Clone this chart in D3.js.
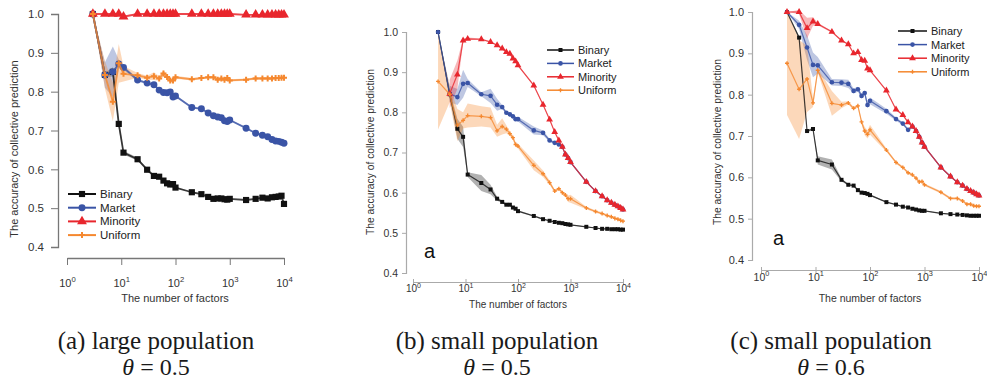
<!DOCTYPE html>
<html><head><meta charset="utf-8">
<script src="https://cdn.jsdelivr.net/npm/d3@7"></script>
<style>body{margin:0;background:#fff}svg{display:block}</style>
</head><body><svg id="c" width="987" height="382"></svg>
<script>
// ---------------- DATA ----------------
const factors = [3,5,7,9,11,20,30,40,50,60,70,80,90,100,200,300,400,500,600,700,800,900,1000,2000,3000,4000,5000,6000,7000,8000,9000,10000];
const seriesNames = ["Binary","Market","Minority","Uniform"];
const xTickExps = [0,1,2,3,4];
const yTicks = [0.4,0.5,0.6,0.7,0.8,0.9,1.0];
const captionTitles = ["(a) large population","(b) small population","(c) small population"];
const captionThetas = ["0.5","0.5","0.6"];

// Panel (a) large population, theta 0.5
const aBinary   = [1.0,0.843,0.851,0.717,0.643,0.626,0.599,0.583,0.581,0.571,0.564,0.561,0.562,0.553,0.541,0.536,0.529,0.524,0.525,0.525,0.523,0.522,0.524,0.521,0.524,0.527,0.525,0.528,0.529,0.530,0.532,0.511];
const aBinaryErr= [0,0.005,0.012,0.012,0.005,0.004,0.003,0.002,0.002,0.002,0.002,0.002,0.002,0.002,0,0,0,0,0,0,0,0,0,0,0,0,0,0,0,0,0,0];
const aMarket   = [1.0,0.843,0.851,0.871,0.862,0.830,0.822,0.818,0.804,0.798,0.797,0.799,0.786,0.789,0.759,0.756,0.745,0.738,0.735,0.733,0.725,0.723,0.727,0.706,0.693,0.688,0.684,0.677,0.673,0.672,0.670,0.667];
const aMarketErr= [0,0.033,0.065,0.012,0.006,0.004,0.003,0.003,0.004,0.003,0.003,0.008,0.004,0.003,0.002,0.002,0.002,0.002,0.002,0.002,0.002,0.002,0.002,0.002,0.002,0.002,0.002,0.002,0.002,0.002,0.002,0.002];
const aMinority = [1.0,1.0,1.0,1.0,0.993,1.0,1.0,1.0,1.0,1.0,1.0,1.0,1.0,1.0,1.0,1.0,1.0,1.0,1.0,1.0,1.0,1.0,1.0,0.998,0.998,0.998,0.998,0.998,0.998,0.998,0.998,0.998];
const aMinorityErr=[0,0.002,0.002,0.002,0.003,0.002,0.002,0.002,0.002,0.002,0.002,0.002,0.002,0.002,0.002,0.002,0.002,0.002,0.002,0.002,0.002,0.002,0.002,0.002,0.002,0.002,0.002,0.002,0.002,0.002,0.002,0.002];
const aUniform  = [1.0,0.843,0.774,0.873,0.846,0.842,0.836,0.840,0.834,0.847,0.838,0.829,0.829,0.837,0.832,0.835,0.837,0.837,0.831,0.834,0.831,0.835,0.829,0.831,0.834,0.834,0.834,0.834,0.835,0.835,0.836,0.836];
const aUniformErr=[0,0.035,0.05,0.05,0.02,0.006,0.005,0.01,0.006,0.008,0.005,0.006,0.005,0.004,0.003,0.003,0.003,0.003,0.003,0.003,0.003,0.003,0.003,0.003,0.003,0.003,0.003,0.003,0.003,0.003,0.003,0.003];

// Panel (b) small population, theta 0.5
const bBinary   = [1.0,0.845,0.759,0.739,0.645,0.624,0.608,0.585,0.577,0.570,0.570,0.563,0.560,0.554,0.542,0.534,0.530,0.527,0.525,0.524,0.522,0.521,0.520,0.515,0.512,0.510,0.510,0.509,0.509,0.509,0.508,0.508];
const bBinaryErr= [0,0.01,0.025,0.025,0.006,0.02,0.012,0.005,0.003,0.003,0.003,0.002,0.002,0.002,0.002,0.002,0.001,0.001,0.001,0.001,0.001,0.001,0.001,0.001,0.001,0.001,0.001,0.001,0.001,0.001,0.001,0.001];
const bMarket   = [1.0,0.846,0.838,0.871,0.873,0.845,0.841,0.819,0.813,0.799,0.795,0.790,0.783,0.783,0.755,0.749,0.730,0.724,0.720,0.714,0.695,0.686,0.676,0.627,0.604,0.591,0.581,0.575,0.570,0.566,0.562,0.558];
const bMarketErr= [0,0.02,0.02,0.035,0.01,0.005,0.018,0.015,0.005,0.004,0.004,0.004,0.004,0.006,0.01,0.006,0.004,0.003,0.003,0.002,0.002,0.002,0.002,0.002,0.002,0.002,0.002,0.002,0.002,0.002,0.002,0.002];
const bMinority = [null,0.846,0.894,0.979,0.983,0.982,0.975,0.967,0.959,0.950,0.946,0.934,0.927,0.917,0.867,0.819,0.782,0.751,0.730,0.714,0.695,0.686,0.676,0.627,0.604,0.591,0.581,0.575,0.570,0.566,0.562,0.558];
const bMinorityErr=[0,0.035,0.035,0.005,0.003,0.002,0.002,0.002,0.002,0.002,0.002,0.002,0.002,0.002,0.002,0.002,0.002,0.002,0.002,0.002,0.002,0.002,0.002,0.002,0.002,0.002,0.002,0.002,0.002,0.002,0.002,0.002];
const bUniform  = [0.877,0.845,0.768,0.780,0.792,0.790,0.787,0.754,0.765,0.758,0.747,0.737,0.720,0.716,0.668,0.647,0.625,0.604,0.610,0.600,0.594,0.585,0.585,0.562,0.553,0.548,0.543,0.540,0.536,0.534,0.531,0.529];
const bUniformErr=[0.12,0.02,0.04,0.02,0.03,0.025,0.025,0.015,0.02,0.01,0.006,0.006,0.006,0.006,0.012,0.008,0.005,0.004,0.004,0.004,0.005,0.008,0.01,0.003,0.003,0.003,0.003,0.003,0.003,0.003,0.003,0.003];

// Panel (c) small population, theta 0.6
const cBinary   = [1.0,0.938,0.712,0.717,0.641,0.631,0.594,0.582,0.580,0.569,0.563,0.562,0.560,0.557,0.540,0.534,0.529,0.527,0.524,0.522,0.520,0.519,0.519,0.513,0.511,0.510,0.509,0.508,0.507,0.507,0.507,0.507];
const cBinaryErr= [0,0.004,0.003,0.003,0.01,0.012,0.004,0.002,0.002,0.002,0.002,0.002,0.002,0.002,0.001,0.001,0.001,0.001,0.001,0.001,0.001,0.001,0.001,0.001,0.001,0.001,0.001,0.001,0.001,0.001,0.001,0.001];
const cMarket   = [1.0,0.969,0.914,0.872,0.871,0.830,0.829,0.826,0.809,0.813,0.797,0.804,0.775,0.785,0.760,0.741,0.730,0.715,0.723,0.712,0.698,0.684,0.674,0.624,0.602,0.588,0.580,0.572,0.567,0.563,0.559,0.556];
const cMarketErr= [0,0.01,0.03,0.03,0.02,0.008,0.008,0.01,0.006,0.006,0.006,0.006,0.008,0.008,0.006,0.004,0.004,0.003,0.002,0.002,0.002,0.002,0.002,0.002,0.002,0.002,0.002,0.002,0.002,0.002,0.002,0.002];
const cMinority = [1.0,1.0,0.961,0.977,0.971,0.952,0.931,0.922,0.900,0.903,0.884,0.882,0.863,0.859,0.810,0.764,0.751,0.733,0.723,0.712,0.698,0.684,0.674,0.624,0.602,0.588,0.580,0.572,0.567,0.563,0.559,0.556];
const cMinorityErr=[0,0.005,0.025,0.01,0.003,0.002,0.002,0.002,0.002,0.002,0.002,0.002,0.002,0.002,0.002,0.002,0.002,0.002,0.002,0.002,0.002,0.002,0.002,0.002,0.002,0.002,0.002,0.002,0.002,0.002,0.002,0.002];
const cUniform  = [0.876,0.813,0.838,0.780,0.859,0.779,0.775,0.780,0.767,0.773,0.734,0.712,0.704,0.715,0.666,0.636,0.624,0.611,0.606,0.598,0.589,0.590,0.582,0.564,0.549,0.549,0.543,0.535,0.535,0.531,0.530,0.530];
const cUniformErr=[0.125,0.12,0.08,0.01,0.005,0.03,0.008,0.004,0.004,0.004,0.005,0.01,0.01,0.012,0.004,0.003,0.003,0.003,0.003,0.003,0.003,0.003,0.003,0.003,0.003,0.003,0.003,0.003,0.003,0.003,0.003,0.003];

// ---------------- STYLE / LAYOUT ----------------
const colors = {Binary:"#111111", Market:"#3a54a6", Minority:"#e8262d", Uniform:"#f5882f"};
const symbols = {Binary:d3.symbolSquare, Market:d3.symbolCircle, Minority:d3.symbolTriangle, Uniform:d3.symbolCross};

const panels = [
  {id:"a", x0:67, x1:284, yTop:14, yBot:247, xAxisY:258, yAxisX:58, big:true,
   tickOut:true, yLabX:42, xLabY:287, xTitle:[175,302], yTitle:[14,149], fs:11, axisColor:"#777",
   legend:{x:68, y:194, dy:13.7, len:28, fs:11.5}, letter:null,
   data:[[aBinary,aBinaryErr],[aMarket,aMarketErr],[aMinority,aMinorityErr],[aUniform,aUniformErr]]},
  {id:"b", x0:413, x1:623, yTop:32, yBot:273, xAxisY:282, yAxisX:406, big:false,
   tickOut:false, yLabX:397, xLabY:292, xTitle:[518,308], yTitle:[370,152], fs:10, axisColor:"#aaa",
   legend:{x:547, y:50, dy:13.4, len:27, fs:11}, letter:[424,258],
   data:[[bBinary,bBinaryErr],[bMarket,bMarketErr],[bMinority,bMinorityErr],[bUniform,bUniformErr]]},
  {id:"c", x0:761, x1:979, yTop:12, yBot:260, xAxisY:270, yAxisX:752, big:false,
   tickOut:false, yLabX:745, xLabY:281, xTitle:[870,302], yTitle:[717,142], fs:10.5, axisColor:"#aaa",
   legend:{x:898, y:31, dy:13.6, len:29, fs:11}, letter:[773,245],
   data:[[cBinary,cBinaryErr],[cMarket,cMarketErr],[cMinority,cMinorityErr],[cUniform,cUniformErr]]}
];

const svg = d3.select("#c");
const FONT = "'Liberation Sans', Arial, Helvetica, sans-serif";
const SERIF = "'Liberation Serif', 'DejaVu Serif', serif";

panels.forEach((p, pi) => {
  const g = svg.append("g");
  const x = d3.scaleLog().domain([1, 10000]).range([p.x0, p.x1]);
  const y = d3.scaleLinear().domain([0.4, 1.0]).range([p.yBot, p.yTop]);
  const lw = p.big ? 1.8 : 1.2;
  const sz = p.big ? {Binary:38, Market:38, Minority:42, Uniform:20} : {Binary:16, Market:17, Minority:20, Uniform:9};

  // Y axis
  const yAxis = d3.axisLeft(y).tickValues(yTicks).tickFormat(d3.format(".1f"))
      .tickSize(p.tickOut ? 7 : 4).tickPadding(p.tickOut ? 7 : 4);
  const ya = g.append("g").attr("transform", `translate(${p.yAxisX},0)`).call(yAxis);
  ya.select(".domain").attr("stroke", p.axisColor).attr("stroke-width", p.big?1.3:1.2);
  ya.selectAll(".tick line").attr("stroke", p.axisColor);
  ya.selectAll(".tick text").attr("fill", "#333").style("font-family", FONT).style("font-size", (p.big?11.5:p.fs+0.5)+"px");

  // X axis
  const xAxis = d3.axisBottom(x).tickValues(xTickExps.map(e => Math.pow(10, e))).tickFormat("")
      .tickSize(p.tickOut ? 7 : 0).tickSizeOuter(0);
  const xa = g.append("g").attr("transform", `translate(0,${p.xAxisY})`).call(xAxis);
  xa.select(".domain").attr("stroke", p.axisColor).attr("stroke-width", p.big?1.3:1.2);
  xa.selectAll(".tick line").attr("stroke", p.axisColor);
  if (!p.tickOut) {
    xa.selectAll(".tick").append("line").attr("y1", -3).attr("y2", 3).attr("stroke", p.axisColor);
  }
  xa.selectAll(".tick").each(function(d, i) {
    const t = d3.select(this).append("text").attr("y", p.xLabY - p.xAxisY).attr("text-anchor", "middle")
      .attr("fill", "#333").style("font-family", FONT).style("font-size", p.fs + "px");
    t.append("tspan").text("10");
    t.append("tspan").attr("dy", -p.fs*0.45).style("font-size", (p.fs*0.7) + "px").text(String(xTickExps[i]));
  });

  // Titles
  g.append("text").attr("x", p.xTitle[0]).attr("y", p.xTitle[1]).attr("text-anchor", "middle")
    .attr("fill", "#333").style("font-family", FONT).style("font-size", (p.fs) + "px").text("The number of factors");
  g.append("text").attr("transform", `translate(${p.yTitle[0]},${p.yTitle[1]}) rotate(-90)`)
    .attr("text-anchor", "middle").attr("dominant-baseline", "central")
    .attr("fill", "#333").style("font-family", FONT).style("font-size", (p.big?11:10.3) + "px")
    .text("The accuracy of collective prediction");

  // Series
  const series = seriesNames.map((name, i) => ({
    name, color: colors[name],
    pts: factors.map((f, j) => ({f, v: p.data[i][0][j], e: p.data[i][1][j]})).filter(d => d.v != null)
  }));
  const area = d3.area().x(d => x(d.f)).y0(d => y(d.v - d.e)).y1(d => y(d.v + d.e));
  const line = d3.line().x(d => x(d.f)).y(d => y(d.v));
  series.forEach(s => {
    g.append("path").attr("d", area(s.pts)).attr("fill", s.color).attr("fill-opacity", 0.33).attr("stroke", "none");
  });
  series.forEach(s => {
    g.append("path").attr("d", line(s.pts)).attr("fill", "none").attr("stroke", s.color)
      .attr("stroke-width", lw).attr("stroke-opacity", 0.8).attr("stroke-linejoin", "round");
    g.selectAll(null).data(s.pts).enter().append("path")
      .attr("transform", d => `translate(${x(d.f)},${y(d.v)})`)
      .attr("d", d3.symbol().type(symbols[s.name]).size(sz[s.name]))
      .attr("fill", s.color);
  });

  // Legend
  const L = p.legend;
  seriesNames.forEach((name, i) => {
    const yy = L.y + i * L.dy;
    g.append("line").attr("x1", L.x).attr("x2", L.x + L.len).attr("y1", yy).attr("y2", yy)
      .attr("stroke", colors[name]).attr("stroke-width", p.big ? 2 : 1.5);
    g.append("path").attr("transform", `translate(${L.x + L.len/2},${yy})`)
      .attr("d", d3.symbol().type(symbols[name]).size(sz[name])).attr("fill", colors[name]);
    g.append("text").attr("x", L.x + L.len + 4).attr("y", yy).attr("dominant-baseline", "central")
      .attr("fill", "#222").style("font-family", FONT).style("font-size", L.fs + "px").text(name);
  });

  if (p.letter) {
    g.append("text").attr("x", p.letter[0]).attr("y", p.letter[1]).attr("fill", "#111")
      .style("font-family", FONT).style("font-size", "20px").text("a");
  }

  // Caption
  const cx = [156, 497, 831][pi];
  svg.append("text").attr("x", cx).attr("y", 349).attr("text-anchor", "middle")
    .style("font-family", SERIF).style("font-size", "25px").attr("fill", "#1a1a1a")
    .text(captionTitles[pi]);
  const th = svg.append("text").attr("x", cx).attr("y", 375).attr("text-anchor", "middle")
    .style("font-family", SERIF).style("font-size", "24px").attr("fill", "#1a1a1a");
  th.append("tspan").style("font-style", "italic").text("θ");
  th.append("tspan").text(" = " + captionThetas[pi]);
});
</script></body></html>
